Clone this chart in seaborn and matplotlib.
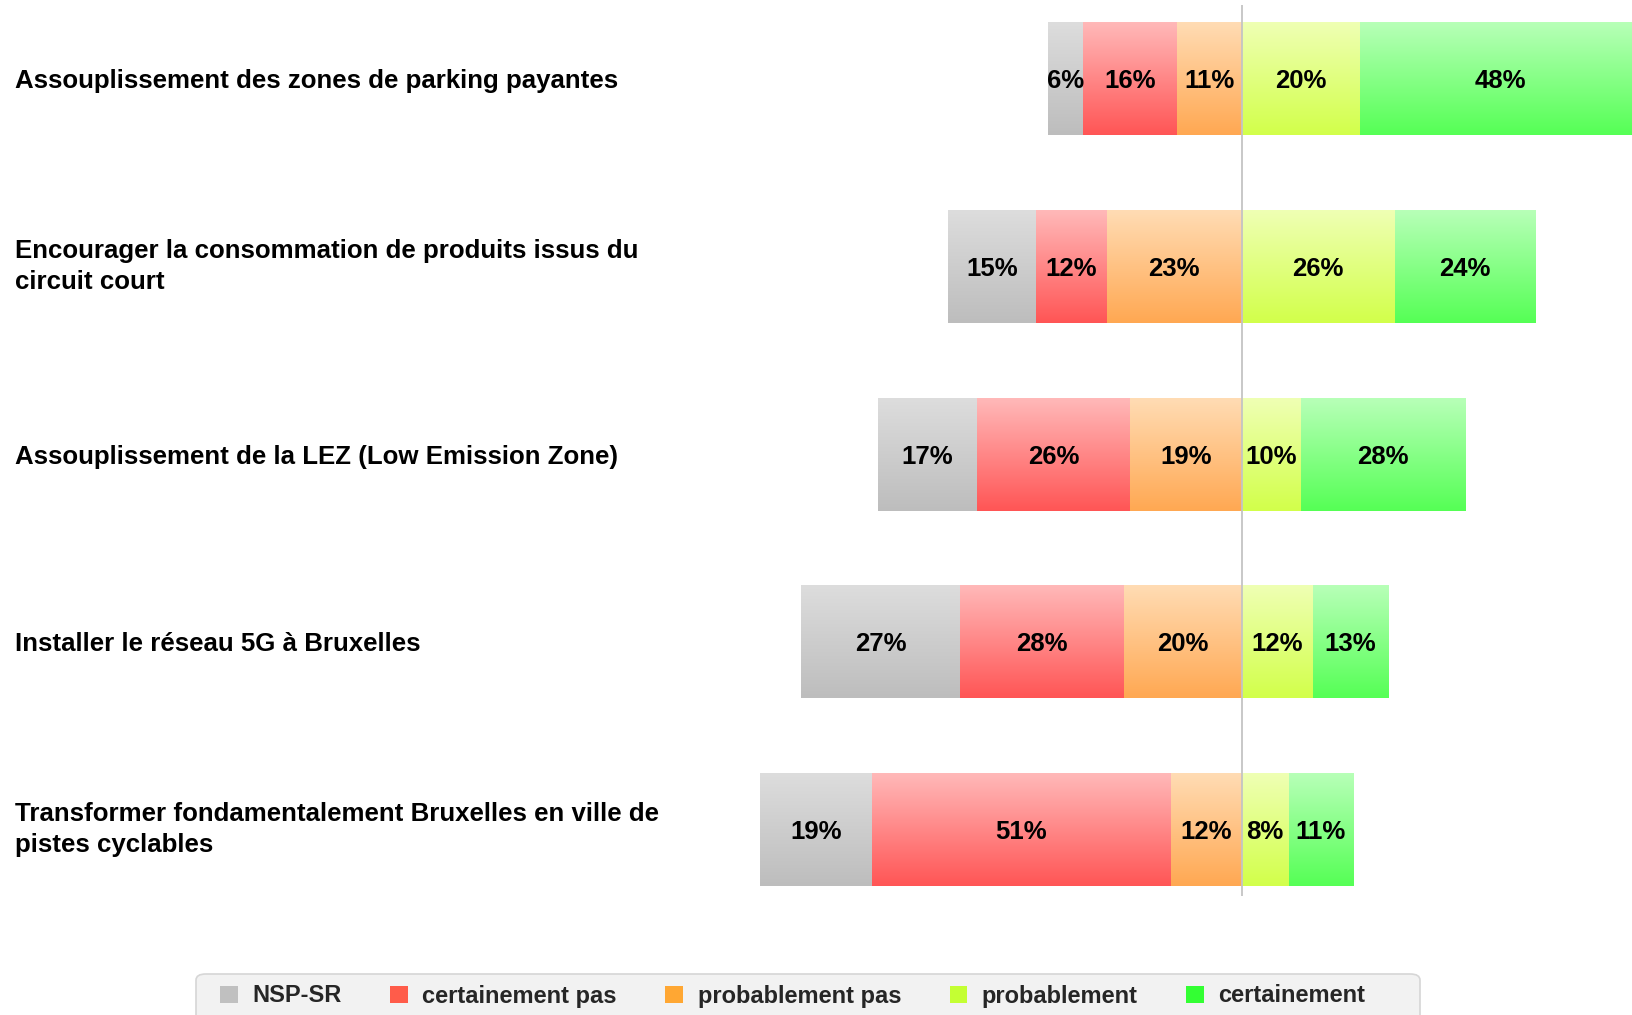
import numpy as np
import pandas as pd
import seaborn as sns
import matplotlib.pyplot as plt
from matplotlib.colors import to_rgb
from matplotlib.patches import Patch, FancyBboxPatch

# Survey data (% of respondents)
categories = [
    "Assouplissement des zones de parking payantes",
    "Encourager la consommation de produits issus du\ncircuit court",
    "Assouplissement de la LEZ (Low Emission Zone)",
    "Installer le réseau 5G à Bruxelles",
    "Transformer fondamentalement Bruxelles en ville de\npistes cyclables",
]
nsp_sr = [6, 15, 17, 27, 19]
certainement_pas = [16, 12, 26, 28, 51]
probablement_pas = [11, 23, 19, 20, 12]
probablement = [20, 26, 10, 12, 8]
certainement = [48, 24, 28, 13, 11]

legend_labels = ["NSP-SR", "certainement pas", "probablement pas", "probablement", "certainement"]
legend_colors = ["#c0c0c0", "#ff5c4a", "#ffa733", "#c4ff33", "#33ff33"]

# gradient (top, bottom) per response
grad_colors = {
    "NSP-SR": ("#dddddd", "#bdbdbd"),
    "certainement pas": ("#ffb9b9", "#ff5555"),
    "probablement pas": ("#ffdcb4", "#ffa852"),
    "probablement": ("#efffb4", "#d2ff4a"),
    "certainement": ("#b8ffb8", "#55ff55"),
}

sns.set_theme(style="white")
plt.rcParams['font.family'] = ['Liberation Sans', 'DejaVu Sans']

df = pd.DataFrame({
    "question": categories,
    "nsp": nsp_sr,
    "cp": certainement_pas,
    "pp": probablement_pas,
    "p": probablement,
    "c": certainement,
})
# diverging stack: negatives to the left of zero, positives to the right
df["neg_all"] = -(df["nsp"] + df["cp"] + df["pp"])
df["neg_mid"] = -(df["cp"] + df["pp"])
df["neg_in"] = -df["pp"]
df["pos_all"] = df["p"] + df["c"]
df["pos_in"] = df["p"]

fig = plt.figure(figsize=(16.32, 10.15), dpi=100)
ax = fig.add_axes([0, 0.1172, 1, 0.9949 - 0.1172])

layers = [
    ("neg_all", "NSP-SR", 1),
    ("neg_mid", "certainement pas", 2),
    ("neg_in", "probablement pas", 3),
    ("pos_all", "certainement", 1),
    ("pos_in", "probablement", 2),
]

for col, name, z in layers:
    n_before = len(ax.containers)
    sns.barplot(data=df, x=col, y="question", orient="h", color=grad_colors[name][1],
                width=0.6, errorbar=None, ax=ax)
    cont = ax.containers[n_before]
    top = np.array(to_rgb(grad_colors[name][0]))
    bot = np.array(to_rgb(grad_colors[name][1]))
    t = np.linspace(0, 1, 256)[:, None]
    grad = ((1 - t) * top + t * bot).reshape(256, 1, 3)
    for bar in cont:
        bar.set_zorder(z)
        bar.set_linewidth(0)
        x0 = min(bar.get_x(), bar.get_x() + bar.get_width())
        x1 = max(bar.get_x(), bar.get_x() + bar.get_width())
        y0 = bar.get_y()
        y1 = y0 + bar.get_height()
        ax.imshow(grad, extent=(x0, x1, y1, y0), origin="upper", aspect="auto",
                  interpolation="bilinear", zorder=z + 0.01)

ax.set_xlim(-211.5, 66.5)
ax.set_ylim(4.354, -0.393)
ax.axvline(0, color="#c4c4c4", lw=1.3, zorder=10)

# value labels centred in each segment
for i in range(len(categories)):
    pp, cp, ns = probablement_pas[i], certainement_pas[i], nsp_sr[i]
    p, c = probablement[i], certainement[i]
    segs = [(-pp / 2, pp), (-(pp + cp / 2), cp), (-(pp + cp + ns / 2), ns),
            (p / 2, p), (p + c / 2, c)]
    for xc, v in segs:
        ax.text(xc, i, f"{v}%", ha="center", va="center_baseline", fontsize=18.5,
                fontweight="bold", color="black", zorder=11)

ax.set_xlabel("")
ax.set_ylabel("")
ax.set_xticks([])
ax.tick_params(axis="y", length=0, pad=-10.5)
for lab in ax.get_yticklabels():
    lab.set_ha("left")
    lab.set_fontsize(18.6)
    lab.set_fontweight("bold")
    lab.set_color("black")
    lab.set_linespacing(1.38)
    if "\n" in lab.get_text():
        lab.set_va("center")
sns.despine(ax=ax, left=True, bottom=True)

# legend panel
W, H = 1632.0, 1015.0
panel = FancyBboxPatch((196 / W, -0.05), (1420 - 196) / W, (1015 - 974) / H + 0.05,
                       boxstyle="round,pad=0,rounding_size=0.006",
                       transform=fig.transFigure, facecolor="#f2f2f2",
                       edgecolor="#d6d6d6", linewidth=1.2, zorder=0)
fig.patches.append(panel)

handles = [Patch(facecolor=c, edgecolor="none") for c in legend_colors]
leg = fig.legend(handles, legend_labels, loc="center left",
                 bbox_to_anchor=(220 / W, 1 - 996 / H),
                 ncol=5, frameon=False, prop={"weight": "bold", "size": 17},
                 handlelength=0.75, handleheight=0.75, handletextpad=0.62,
                 columnspacing=2.05, borderpad=0, borderaxespad=0)

fig.savefig("out.png", dpi=100)
